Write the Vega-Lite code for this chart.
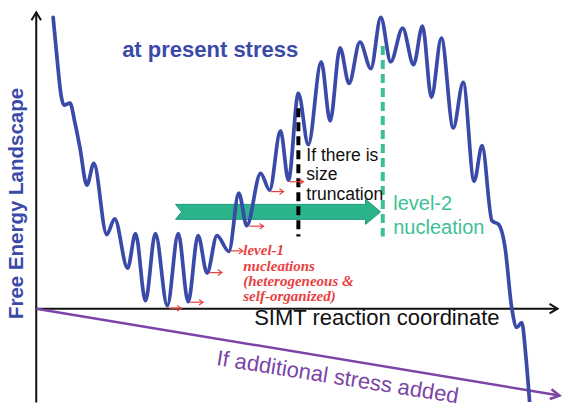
{
  "$schema": "https://vega.github.io/schema/vega-lite/v6.json",
  "width": 565,
  "height": 407,
  "autosize": {"type": "fit", "contains": "padding"},
  "padding": 0,
  "background": "white",
  "config": {"view": {"stroke": null}},
  "datasets": {
    "landscape": [
      {"rc": 17, "G": 295}, {"rc": 21, "G": 253}, {"rc": 25, "G": 216}, {"rc": 28, "G": 206},
      {"rc": 34, "G": 208}, {"rc": 39, "G": 188}, {"rc": 44, "G": 163}, {"rc": 51, "G": 125},
      {"rc": 58, "G": 147}, {"rc": 71, "G": 75}, {"rc": 79, "G": 91}, {"rc": 92, "G": 41},
      {"rc": 100, "G": 76}, {"rc": 110, "G": 8}, {"rc": 120, "G": 76}, {"rc": 132, "G": 3},
      {"rc": 143, "G": 76}, {"rc": 153, "G": 7}, {"rc": 163, "G": 74}, {"rc": 172, "G": 36},
      {"rc": 182, "G": 74}, {"rc": 194, "G": 58}, {"rc": 204, "G": 117}, {"rc": 212, "G": 84},
      {"rc": 226, "G": 137}, {"rc": 235, "G": 120}, {"rc": 246, "G": 180}, {"rc": 254, "G": 130},
      {"rc": 264, "G": 218}, {"rc": 274, "G": 166}, {"rc": 287, "G": 250}, {"rc": 296, "G": 190},
      {"rc": 306, "G": 264}, {"rc": 315, "G": 228}, {"rc": 326, "G": 270}, {"rc": 337, "G": 243},
      {"rc": 347, "G": 295}, {"rc": 357, "G": 250}, {"rc": 369, "G": 284}, {"rc": 380, "G": 247},
      {"rc": 389, "G": 286}, {"rc": 398, "G": 214}, {"rc": 408, "G": 274}, {"rc": 420, "G": 183},
      {"rc": 430, "G": 229}, {"rc": 441, "G": 129}, {"rc": 449, "G": 165}, {"rc": 459, "G": 89},
      {"rc": 466, "G": 85}, {"rc": 472, "G": 63}, {"rc": 479, "G": 0}, {"rc": 484, "G": -19},
      {"rc": 489, "G": -14}, {"rc": 493, "G": -47}, {"rc": 498, "G": -110}
    ],
    "axes": [
      {"part": "free energy", "rc": 0, "G": -95, "rc2": 0, "G2": 300},
      {"part": "reaction coordinate", "rc": 0, "G": 0, "rc2": 525, "G2": 0}
    ],
    "axisHeads": [
      {"part": "free energy", "rc": 0, "G": 300, "dir": -90},
      {"part": "reaction coordinate", "rc": 525, "G": 0, "dir": 0}
    ],
    "stressLine": [{"rc": 0, "G": 0, "rc2": 527, "G2": -88}],
    "stressHead": [{"rc": 527, "G": -88}],
    "truncation": [{"rc": 264, "G": 203, "rc2": 264, "G2": 73}],
    "level2": [{"rc": 349, "G": 266, "rc2": 349, "G2": 73}],
    "bigArrow": [{"rc": 243.5, "G": 98}],
    "level1Arrows": [
      {"rc": 134, "rc2": 146, "G": 0.5},
      {"rc": 155, "rc2": 168, "G": 6.5},
      {"rc": 174, "rc2": 187, "G": 36.5},
      {"rc": 196, "rc2": 208, "G": 58.5},
      {"rc": 215, "rc2": 229, "G": 83.5},
      {"rc": 236, "rc2": 249, "G": 118.5},
      {"rc": 255, "rc2": 269, "G": 128.5}
    ],
    "blueText": [{"label": "at present stress", "rc": 86.5, "G": 254.5}],
    "yTitle": [{"label": "Free Energy Landscape", "rc": -19.5, "G": 106.5}],
    "xTitle": [{"label": "SIMT reaction coordinate", "rc": 219.5, "G": -16.5}],
    "stressText": [{"label": "If additional stress added", "rc": 303.5, "G": -69.5}],
    "truncText": [
      {"label": "If there is", "rc": 272, "G": 149.5},
      {"label": "size", "rc": 272, "G": 130.5},
      {"label": "truncation", "rc": 272, "G": 110.5}
    ],
    "level2Text": [
      {"label": "level-2", "rc": 359.5, "G": 99.5},
      {"label": "nucleation", "rc": 359.5, "G": 75.5}
    ],
    "level1Text": [
      {"label": "level-1", "rc": 208.5, "G": 54.5},
      {"label": "nucleations", "rc": 208.5, "G": 38.5},
      {"label": "(heterogeneous  &", "rc": 208.5, "G": 22.5},
      {"label": "self-organized)", "rc": 208.5, "G": 7.5}
    ]
  },
  "encoding": {
    "x": {"field": "rc", "type": "quantitative", "scale": {"domain": [-36.5, 528.5], "nice": false, "zero": false}, "axis": null},
    "y": {"field": "G", "type": "quantitative", "scale": {"domain": [-94.5, 312.5], "nice": false, "zero": false}, "axis": null}
  },
  "layer": [
    {
      "data": {"name": "axes"},
      "mark": {"type": "rule", "color": "#111111", "strokeWidth": 2},
      "encoding": {"x2": {"field": "rc2"}, "y2": {"field": "G2"}}
    },
    {
      "data": {"name": "axisHeads"},
      "mark": {"type": "point", "shape": "M-1,-0.6 L0,0 L-1,0.6", "size": 256, "filled": false, "color": "#111111", "strokeWidth": 2, "opacity": 1},
      "encoding": {"angle": {"field": "dir", "type": "quantitative", "scale": null}}
    },
    {
      "data": {"name": "stressLine"},
      "mark": {"type": "rule", "color": "#7b45a6", "strokeWidth": 2.5},
      "encoding": {"x2": {"field": "rc2"}, "y2": {"field": "G2"}}
    },
    {
      "data": {"name": "stressHead"},
      "mark": {"type": "point", "shape": "M-1,-0.55 L0,0 L-1,0.55", "size": 324, "filled": false, "color": "#7b45a6", "strokeWidth": 2.5, "opacity": 1, "angle": 9.4}
    },
    {
      "data": {"name": "bigArrow"},
      "mark": {"type": "point", "shape": "M-1,-0.073 L0.854,-0.073 L0.854,-0.122 L1,0 L0.854,0.122 L0.854,0.073 L-1,0.073 L-0.94,0 Z", "size": 42025, "filled": true, "fill": "#2bb38b", "stroke": "#1e9a74", "strokeWidth": 1, "opacity": 1}
    },
    {
      "data": {"name": "landscape"},
      "mark": {"type": "line", "color": "#3a4aa8", "strokeWidth": 3.7, "interpolate": "monotone", "clip": true, "strokeCap": "round"}
    },
    {
      "data": {"name": "truncation"},
      "mark": {"type": "rule", "color": "#000000", "strokeWidth": 4, "strokeDash": [9, 5]},
      "encoding": {"x2": {"field": "rc2"}, "y2": {"field": "G2"}}
    },
    {
      "data": {"name": "level2"},
      "mark": {"type": "rule", "color": "#3dbf95", "strokeWidth": 4, "strokeDash": [9, 5]},
      "encoding": {"x2": {"field": "rc2"}, "y2": {"field": "G2"}}
    },
    {
      "data": {"name": "level1Arrows"},
      "mark": {"type": "rule", "color": "#e8403f", "strokeWidth": 1.2},
      "encoding": {"x2": {"field": "rc2"}}
    },
    {
      "data": {"name": "level1Arrows"},
      "mark": {"type": "point", "shape": "M-1,-0.7 L0,0 L-1,0.7", "size": 64, "filled": false, "color": "#e8403f", "strokeWidth": 1.2, "opacity": 1},
      "encoding": {"x": {"field": "rc2", "type": "quantitative"}}
    },
    {
      "data": {"name": "blueText"},
      "mark": {"type": "text", "align": "left", "baseline": "alphabetic", "font": "Liberation Sans", "fontSize": 22, "fontWeight": "bold", "color": "#3a4aa8"},
      "encoding": {"text": {"field": "label"}}
    },
    {
      "data": {"name": "yTitle"},
      "mark": {"type": "text", "align": "center", "baseline": "middle", "angle": 270, "font": "Liberation Sans", "fontSize": 20.5, "fontWeight": "bold", "color": "#3a4aa8"},
      "encoding": {"text": {"field": "label"}}
    },
    {
      "data": {"name": "xTitle"},
      "mark": {"type": "text", "align": "left", "baseline": "alphabetic", "font": "Liberation Sans", "fontSize": 22, "color": "#111111"},
      "encoding": {"text": {"field": "label"}}
    },
    {
      "data": {"name": "stressText"},
      "mark": {"type": "text", "align": "center", "baseline": "middle", "angle": 9, "font": "Liberation Sans", "fontSize": 22, "color": "#7b45a6"},
      "encoding": {"text": {"field": "label"}}
    },
    {
      "data": {"name": "truncText"},
      "mark": {"type": "text", "align": "left", "baseline": "alphabetic", "font": "Liberation Sans", "fontSize": 17.5, "color": "#111111"},
      "encoding": {"text": {"field": "label"}}
    },
    {
      "data": {"name": "level2Text"},
      "mark": {"type": "text", "align": "left", "baseline": "alphabetic", "font": "Liberation Sans", "fontSize": 20, "color": "#3dbf95"},
      "encoding": {"text": {"field": "label"}}
    },
    {
      "data": {"name": "level1Text"},
      "mark": {"type": "text", "align": "left", "baseline": "alphabetic", "font": "Liberation Serif", "fontSize": 15, "fontWeight": "bold", "fontStyle": "italic", "color": "#e8403f"},
      "encoding": {"text": {"field": "label"}}
    }
  ]
}
